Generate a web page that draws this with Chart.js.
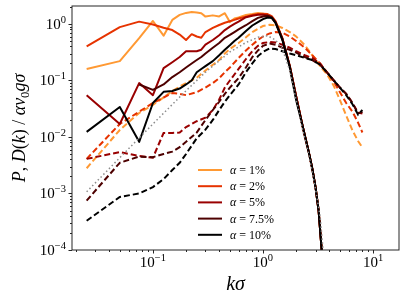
<!DOCTYPE html>
<html>
<head>
<meta charset="utf-8">
<script src="https://cdn.jsdelivr.net/npm/chart.js@4.4.1/dist/chart.umd.min.js"></script>
<style>
html, body { margin: 0; padding: 0; background: #fff; }
</style>
</head>
<body>
<canvas id="spectra" width="407" height="302"></canvas>
<script>
'use strict';

// k*sigma grids
var kP = [0.025, 0.05, 0.075, 0.1, 0.125, 0.15, 0.175, 0.2, 0.225, 0.25, 0.275, 0.3, 0.35, 0.4, 0.45, 0.5, 0.55, 0.6, 0.7, 0.8, 0.9, 1.0, 1.1, 1.2, 1.3, 1.5, 1.75, 2.0, 2.3, 2.6, 2.8, 3.0, 3.2, 3.4, 3.6];
var kD = [0.025, 0.05, 0.075, 0.1, 0.125, 0.15, 0.175, 0.2, 0.25, 0.3, 0.35, 0.4, 0.45, 0.5, 0.6, 0.7, 0.8, 0.9, 1.0, 1.15, 1.3, 1.5, 1.75, 2.0, 2.4, 2.8, 3.3, 3.8, 4.4, 5.0, 5.7, 6.5, 7.3, 8.0];
var kT = [0.025, 0.05, 0.1, 0.2, 0.3, 0.5, 0.7, 0.9, 1.1, 1.3, 1.5, 1.75, 2.0, 2.3, 2.6, 3.0, 3.3, 3.6];

// P(k), solid
var P1 = [0.16, 0.22, 0.56, 1.13, 0.62, 1.18, 1.45, 1.57, 1.63, 1.6, 1.55, 1.35, 1.42, 1.36, 1.55, 1.08, 1.25, 1.3, 1.44, 1.5, 1.57, 1.52, 1.45, 1.3, 1.08, 0.55, 0.18, 0.052, 0.015, 0.0055, 0.0028, 0.0013, 0.0005, 0.00011, 0.00002];
var P2 = [0.40, 0.88, 1.1, 0.98, 0.86, 0.78, 0.65, 0.52, 0.66, 0.6, 0.57, 0.72, 0.85, 0.96, 1.05, 1.12, 1.18, 1.25, 1.35, 1.44, 1.5, 1.52, 1.5, 1.38, 1.12, 0.56, 0.18, 0.052, 0.015, 0.0055, 0.0028, 0.0013, 0.0005, 0.00011, 0.00002];
var P5 = [0.055, 0.017, 0.09, 0.055, 0.165, 0.21, 0.26, 0.33, 0.33, 0.33, 0.35, 0.43, 0.52, 0.63, 0.78, 0.9, 1.0, 1.1, 1.32, 1.4, 1.45, 1.46, 1.42, 1.3, 1.06, 0.55, 0.18, 0.052, 0.015, 0.0055, 0.0028, 0.0013, 0.0005, 0.00011, 0.00002];
var P75 = [null, null, 0.085, 0.068, 0.085, 0.115, 0.14, 0.17, 0.2, 0.23, 0.26, 0.3, 0.38, 0.46, 0.57, 0.64, 0.72, 0.8, 0.95, 1.12, 1.28, 1.36, 1.4, 1.32, 1.08, 0.55, 0.18, 0.052, 0.015, 0.0055, 0.0028, 0.0013, 0.0005, 0.00011, 0.00002];
var P10 = [0.0123, 0.034, 0.0082, 0.04, 0.063, 0.065, 0.072, 0.085, 0.1, 0.14, 0.16, 0.18, 0.22, 0.28, 0.35, 0.42, 0.5, 0.57, 0.75, 0.94, 1.08, 1.22, 1.3, 1.28, 1.05, 0.52, 0.17, 0.045, 0.015, 0.0055, 0.0028, 0.0013, 0.0005, 0.00011, 0.00002];

// D(k), dashed
var D1 = [0.0028, 0.0133, 0.0266, 0.037, 0.05, 0.065, 0.078, 0.09, 0.112, 0.15, 0.19, 0.23, 0.3, 0.36, 0.46, 0.58, 0.72, 0.82, 0.92, 0.97, 0.95, 0.85, 0.72, 0.6, 0.42, 0.28, 0.18, 0.13, 0.08, 0.045, 0.024, 0.013, 0.0085, 0.0065];
var D2 = [0.0041, 0.017, 0.028, 0.04, 0.05, 0.06, 0.058, 0.055, 0.062, 0.075, 0.09, 0.11, 0.14, 0.17, 0.25, 0.34, 0.43, 0.52, 0.6, 0.68, 0.72, 0.7, 0.6, 0.5, 0.38, 0.28, 0.2, 0.14, 0.095, 0.062, 0.04, 0.028, 0.018, 0.012];
var D5 = [0.0041, 0.0054, 0.0046, 0.0043, 0.0118, 0.0118, 0.012, 0.015, 0.019, 0.022, 0.03, 0.046, 0.075, 0.1, 0.16, 0.24, 0.33, 0.41, 0.46, 0.48, 0.47, 0.43, 0.38, 0.33, 0.28, 0.25, 0.2, 0.14, 0.1, 0.075, 0.058, 0.04, 0.027, 0.026];
var D75 = [0.00075, 0.0035, 0.0045, 0.0044, 0.005, 0.0055, 0.0066, 0.0082, 0.012, 0.02, 0.03, 0.042, 0.058, 0.075, 0.11, 0.17, 0.26, 0.34, 0.41, 0.45, 0.43, 0.38, 0.35, 0.31, 0.26, 0.23, 0.19, 0.14, 0.1, 0.075, 0.058, 0.04, 0.026, 0.028];
var D10 = [0.00033, 0.00087, 0.001, 0.0013, 0.0018, 0.0026, 0.0035, 0.005, 0.0095, 0.0135, 0.02, 0.03, 0.042, 0.055, 0.085, 0.14, 0.2, 0.27, 0.32, 0.37, 0.36, 0.33, 0.3, 0.28, 0.25, 0.23, 0.19, 0.14, 0.1, 0.075, 0.055, 0.038, 0.025, 0.03];

// gray dotted reference curve
var T = [0.00107, 0.0043, 0.017, 0.066, 0.14, 0.32, 0.47, 0.58, 0.62, 0.52, 0.36, 0.15, 0.045, 0.013, 0.005, 0.0012, 0.0004, 0.00006];

var alphas = ['1%', '2%', '5%', '7.5%', '10%'];
var colors = ['#ff9933', '#e63300', '#990000', '#4d0000', '#000000'];
var xTicks = [0.1, 1, 10];
var yTicks = [1e-4, 1e-3, 1e-2, 1e-1, 1];

var SERIF = '"Liberation Serif", "DejaVu Serif", serif';

function pts(ks, vals) {
    return ks.map(function (k, i) { return { x: k, y: vals[i] }; });
}

var solid = [P1, P2, P5, P75, P10];
var dashed = [D1, D2, D5, D75, D10];
var datasets = [];
for (var i = 0; i < 5; i++) {
    datasets.push({
        data: pts(kP, solid[i]),
        borderColor: colors[i],
        borderWidth: 2,
        borderJoinStyle: 'round',
        pointRadius: 0,
        order: 10 - 2 * i
    });
    datasets.push({
        data: pts(kD, dashed[i]),
        borderColor: colors[i],
        borderWidth: 2,
        borderDash: [6, 3],
        pointRadius: 0,
        order: 11 - 2 * i
    });
}
datasets.push({
    data: pts(kT, T),
    borderColor: '#8c8c8c',
    borderWidth: 1.5,
    borderDash: [1.5, 2.5],
    pointRadius: 0,
    order: 0
});

// draws a row of text pieces (italic / sub / sup)
function rich(ctx, segs, x, y, size, align) {
    var total = 0;
    segs.forEach(function (s) {
        var sz = (s.sub || s.sup) ? size * 0.7 : size;
        ctx.font = (s.it ? 'italic ' : '') + sz + 'px ' + SERIF;
        s.w = ctx.measureText(s.t).width;
        total += s.w;
    });
    var cx = align === 'center' ? x - total / 2 : align === 'right' ? x - total : x;
    segs.forEach(function (s) {
        var sz = (s.sub || s.sup) ? size * 0.7 : size;
        var dy = s.sup ? -size * 0.42 : s.sub ? size * 0.22 : 0;
        ctx.font = (s.it ? 'italic ' : '') + sz + 'px ' + SERIF;
        ctx.fillText(s.t, cx, y + dy);
        cx += s.w;
    });
}

function powLabel(v) {
    var e = Math.round(Math.log10(v));
    return [{ t: '10' }, { t: String(e).replace('-', '\u2212'), sup: true }];
}

var decor = {
    id: 'decor',
    afterDraw: function (chart) {
        var ctx = chart.ctx, a = chart.chartArea;
        var xs = chart.scales.x, ys = chart.scales.y;
        ctx.save();
        ctx.strokeStyle = '#262626';
        ctx.fillStyle = '#000';
        ctx.lineWidth = 1;
        ctx.strokeRect(a.left, a.top, a.right - a.left, a.bottom - a.top);

        // tick marks, majors and minors
        ctx.beginPath();
        for (var d = -5; d <= 2; d++) {
            for (var m = 1; m <= 9; m++) {
                var v = m * Math.pow(10, d);
                var len = m === 1 ? 3.5 : 2;
                if (v >= xs.min && v <= xs.max) {
                    var px = Math.round(xs.getPixelForValue(v)) + 0.5;
                    ctx.moveTo(px, a.bottom);
                    ctx.lineTo(px, a.bottom + len);
                }
                if (v >= ys.min && v <= ys.max) {
                    var py = Math.round(ys.getPixelForValue(v)) + 0.5;
                    ctx.moveTo(a.left, py);
                    ctx.lineTo(a.left - len, py);
                }
            }
        }
        ctx.stroke();

        ctx.textBaseline = 'alphabetic';
        xTicks.forEach(function (v) {
            rich(ctx, powLabel(v), xs.getPixelForValue(v), a.bottom + 17, 15, 'center');
        });
        yTicks.forEach(function (v) {
            rich(ctx, powLabel(v), a.left - 6, ys.getPixelForValue(v) + 5, 15, 'right');
        });

        // axis titles
        rich(ctx, [{ t: 'k', it: true }, { t: '\u03c3', it: true }], (a.left + a.right) / 2, 290, 20, 'center');
        ctx.save();
        ctx.translate(25, (a.top + a.bottom) / 2);
        ctx.rotate(-Math.PI / 2);
        rich(ctx, [
            { t: 'P', it: true }, { t: ', ' }, { t: 'D', it: true }, { t: '(' },
            { t: 'k', it: true }, { t: ') / ' }, { t: '\u03b1v', it: true },
            { t: '0', sub: true }, { t: 'g\u03c3', it: true }
        ], 0, 0, 18, 'center');
        ctx.restore();

        // legend
        for (var i = 0; i < alphas.length; i++) {
            var ly = 170 + i * 16.2;
            ctx.strokeStyle = colors[i];
            ctx.lineWidth = 2;
            ctx.beginPath();
            ctx.moveTo(198, ly);
            ctx.lineTo(222, ly);
            ctx.stroke();
            rich(ctx, [{ t: '\u03b1', it: true }, { t: ' = ' + alphas[i] }], 230, ly + 4, 12, 'left');
        }
        ctx.restore();
    }
};

new Chart(document.getElementById('spectra'), {
    type: 'line',
    data: { datasets: datasets },
    options: {
        responsive: false,
        animation: false,
        devicePixelRatio: 1,
        layout: { padding: { left: 0, right: 8, top: 6, bottom: 0 } },
        plugins: { legend: { display: false }, tooltip: { enabled: false } },
        scales: {
            x: {
                type: 'logarithmic', min: 0.0184, max: 17.2,
                ticks: { display: false }, grid: { display: false }, border: { display: false },
                afterFit: function (s) { s.height = 52; }
            },
            y: {
                type: 'logarithmic', min: 1e-4, max: 2.08,
                ticks: { display: false }, grid: { display: false }, border: { display: false },
                afterFit: function (s) { s.width = 72; }
            }
        }
    },
    plugins: [decor]
});
</script>
</body>
</html>
